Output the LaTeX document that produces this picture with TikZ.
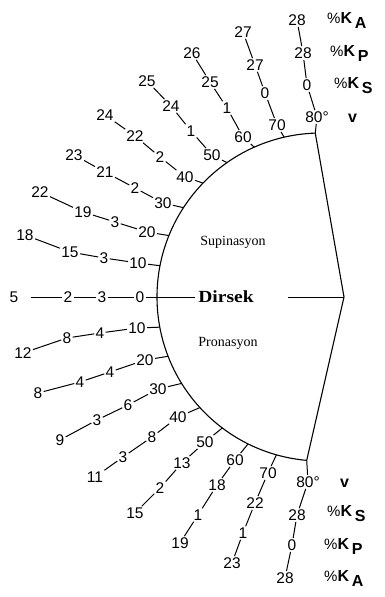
\documentclass[tikz,border=0pt]{standalone}
\usepackage{fontspec}
\setmainfont{Liberation Sans}
\newfontfamily\serifff{Liberation Serif}
\usetikzlibrary{calc}
\tikzset{
  num/.style={font=\fontsize{15.5}{15.5}\selectfont, inner sep=1.2pt},
  conn/.style={line width=1pt},
  legend/.style={font=\bfseries\fontsize{16}{16}\selectfont, inner sep=0pt, anchor=west},
  side/.style={font=\serifff\fontsize{14}{14}\selectfont, inner sep=0pt},
}
\newcommand{\KK}[1]{{\mdseries\fontsize{15}{15}\selectfont\%}K\,\raisebox{-5pt}{#1}}
\begin{document}
\begin{tikzpicture}[x=1pt,y=-1pt]
\useasboundingbox[fill=white] (0,0) rectangle (384,597);
\coordinate (C) at (321,297);
\coordinate (V) at (344,297);
\coordinate (AT) at ($(C)+(268:164)$);
\coordinate (AB) at ($(C)+(95:164)$);
\draw[line width=1.1pt] (AT) arc[start angle=268, end angle=95, radius=164];
\draw[line width=1.1pt] (AT) -- (V) -- (AB);
% tick points
\foreach \k in {1,...,7} {
  \coordinate (ut\k) at ($(C)+(180+11*\k:164)$);
  \coordinate (lt\k) at ($(C)+(180-10.6*\k:164)$);
}
\coordinate (ut8) at (AT);
\coordinate (lt8) at (AB);
% central labels
\node[side] (sup) at (233,242) {Supinasyon};
\node[side] (pro) at (228,343) {Pronasyon};
\node[font=\serifff\bfseries\fontsize{17}{17}\selectfont, inner sep=3pt] (dir) at (226,297) {\scalebox{1.15}[1]{Dirsek}};
\coordinate (dl) at (288,297);
\draw[conn] (dl) -- (V);
% labels
\foreach \n/\x/\y/\t in {
  c0d/140/297/0, c0s/102/297/3, c0p/68/297/2, c0a/14/297/5,
  u1d/138/263/10, u1s/104/258/3, u1p/70/252/15, u1a/25/235/18,
  u2d/147/232/20, u2s/115/222/3, u2p/83/212/19, u2a/40/192/22,
  u3d/163/203/30, u3s/135/188/2, u3p/105/172/21, u3a/74/155/23,
  u4d/185/177/40, u4s/160/157/2, u4p/135/136/22, u4a/105/115/24,
  u5d/212/155/50, u5s/191/131/1, u5p/171/106/24, u5a/147/81/25,
  u6d/243/137/60, u6s/227/108/1, u6p/210/82/25, u6a/192/53/26,
  u7d/277/125/70, u7s/265/93/0, u7p/255/65/27, u7a/243/32/27,
  u8d/317/117/{80\textdegree}, u8s/307/85/0, u8p/303/53/28, u8a/297/20/28,
  l1d/137/328/10, l1s/100/333/4, l1p/67/338/8, l1a/23/353/12,
  l2d/145/360/20, l2s/110/372/4, l2p/80/382/4, l2a/38/393/8,
  l3d/158/389/30, l3s/128/405/6, l3p/97/420/3, l3a/60/440/9,
  l4d/178/417/40, l4s/152/437/8, l4p/123/457/3, l4a/95/477/11,
  l5d/205/442/50, l5s/182/463/13, l5p/160/488/2, l5a/135/513/15,
  l6d/235/460/60, l6s/217/485/18, l6p/198/515/1, l6a/180/543/19,
  l7d/268/473/70, l7s/255/503/22, l7p/243/533/1, l7a/232/563/23,
  l8d/308/482/{80\textdegree}, l8s/297/515/28, l8p/292/545/0, l8a/285/578/28
} \node[num] (\n) at (\x,\y) {\t};
% connectors along each ray
\foreach \r in {u1,u2,u3,u4,u5,u6,u7,u8,l1,l2,l3,l4,l5,l6,l7,l8} {
  \draw[conn] (\r a) -- (\r p);
  \draw[conn] (\r p) -- (\r s);
  \draw[conn] (\r s) -- (\r d);
}
\foreach \k in {1,...,8} {
  \draw[conn] (u\k d) -- (ut\k);
  \draw[conn] (l\k d) -- (lt\k);
}
\draw[conn, shorten <=11pt] (c0a) -- (c0p);
\draw[conn] (c0p) -- (c0s);
\draw[conn] (c0s) -- (c0d);
\draw[conn] (c0d) -- (dir);
% legends
\node[legend] (tv) at (348,118) {v};
\node[legend] (tks) at (334,86) {\KK{S}};
\node[legend] (tkp) at (330,53) {\KK{P}};
\node[legend] (tka) at (327,20) {\KK{A}};
\node[legend] (bv) at (340,483) {v};
\node[legend] (bks) at (327,514) {\KK{S}};
\node[legend] (bkp) at (324,546) {\KK{P}};
\node[legend] (bka) at (324,578) {\KK{A}};
\end{tikzpicture}
\end{document}
